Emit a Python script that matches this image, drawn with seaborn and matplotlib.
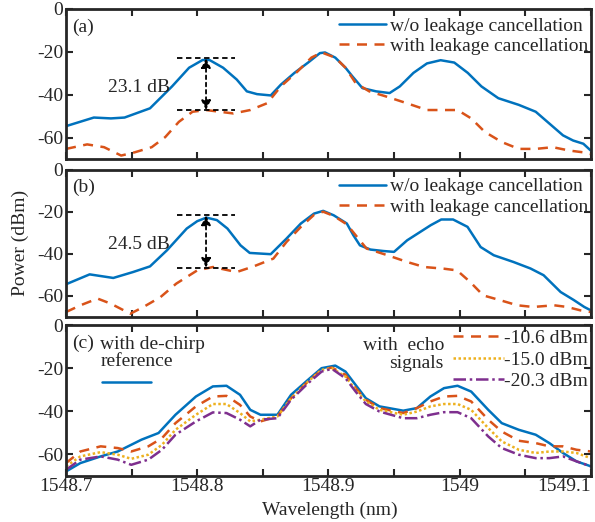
import numpy as np
import pandas as pd
import matplotlib.pyplot as plt
import seaborn as sns

sns.set_style("ticks")
plt.rcParams["font.family"] = ["Liberation Serif", "DejaVu Serif"]
plt.rcParams["font.size"] = 14
plt.rcParams["lines.solid_joinstyle"] = "round"

# ------------------- Data -------------------

# Panel (a)
wl_a_blue = [1548.7000, 1548.7212, 1548.7342, 1548.7446, 1548.7640, 1548.7808, 1548.7938, 1548.8041,
             1548.8093, 1548.8197, 1548.8301, 1548.8378, 1548.8456, 1548.8560, 1548.8637, 1548.8741,
             1548.8845, 1548.8935, 1548.8974, 1548.9052, 1548.9130, 1548.9181, 1548.9259, 1548.9363,
             1548.9466, 1548.9544, 1548.9648, 1548.9751, 1548.9855, 1548.9959, 1549.0062, 1549.0166,
             1549.0295, 1549.0451, 1549.0580, 1549.0684, 1549.0788, 1549.0865, 1549.0943, 1549.1000]
pw_a_blue = [-54.6, -50.6, -51.0, -50.6, -46.3, -36.1, -27.4, -23.8,
             -23.8, -27.4, -32.9, -38.4, -39.7, -40.3, -35.3, -29.8,
             -25.0, -20.6, -20.3, -22.7, -27.4, -31.3, -36.9, -38.4,
             -39.2, -36.1, -29.8, -25.4, -23.9, -25.0, -29.8, -36.1,
             -41.6, -44.7, -47.9, -53.4, -58.9, -61.3, -62.8, -66.0]

wl_a_orange = [1548.7000, 1548.7161, 1548.7290, 1548.7420, 1548.7523, 1548.7653, 1548.7756, 1548.7860,
               1548.7964, 1548.8067, 1548.8171, 1548.8275, 1548.8404, 1548.8534, 1548.8637, 1548.8767,
               1548.8870, 1548.8948, 1548.9052, 1548.9130, 1548.9207, 1548.9311, 1548.9440, 1548.9596,
               1548.9751, 1548.9881, 1548.9984, 1549.0088, 1549.0192, 1549.0321, 1549.0451, 1549.0580,
               1549.0710, 1549.0839, 1549.0943, 1549.1000]
pw_a_orange = [-65.2, -63.1, -64.4, -68.3, -66.8, -64.4, -59.7, -52.6,
               -47.9, -47.1, -47.9, -48.7, -47.1, -43.9, -36.1, -29.0,
               -22.7, -20.3, -22.7, -27.4, -34.5, -38.4, -40.8, -43.9,
               -47.1, -47.1, -47.1, -51.0, -57.3, -62.0, -65.2, -65.2,
               -64.4, -66.0, -66.8, -67.6]

# Panel (b)
wl_b_blue = [1548.700, 1548.718, 1548.736, 1548.751, 1548.764, 1548.777, 1548.792, 1548.800,
             1548.807, 1548.815, 1548.823, 1548.833, 1548.840, 1548.856, 1548.868, 1548.879,
             1548.889, 1548.896, 1548.904, 1548.914, 1548.919, 1548.924, 1548.932, 1548.942,
             1548.950, 1548.960, 1548.970, 1548.978, 1548.986, 1548.995, 1549.006, 1549.016,
             1549.026, 1549.041, 1549.054, 1549.064, 1549.077, 1549.087, 1549.095, 1549.100]
pw_b_blue = [-54.5, -49.8, -51.5, -48.7, -46.0, -38.3, -28.0, -24.5,
             -22.8, -24.0, -28.0, -36.0, -39.6, -40.2, -32.8, -25.6,
             -20.9, -19.6, -21.7, -25.6, -31.2, -36.0, -38.0, -38.7,
             -39.1, -33.6, -29.6, -26.4, -23.7, -23.7, -27.2, -36.8,
             -40.7, -43.9, -47.0, -50.2, -58.2, -62.0, -65.3, -66.9]

wl_b_orange = [1548.700, 1548.711, 1548.724, 1548.734, 1548.744, 1548.749, 1548.759, 1548.772,
               1548.784, 1548.800, 1548.812, 1548.830, 1548.843, 1548.858, 1548.868, 1548.879,
               1548.889, 1548.896, 1548.904, 1548.914, 1548.929, 1548.945, 1548.960, 1548.973,
               1548.988, 1548.998, 1549.008, 1549.018, 1549.031, 1549.044, 1549.056, 1549.072,
               1549.082, 1549.092, 1549.100]
pw_b_orange = [-67.7, -64.5, -61.3, -63.7, -66.9, -68.5, -65.3, -60.6,
               -54.2, -47.9, -46.3, -48.7, -46.0, -42.3, -34.4, -27.2,
               -21.5, -20.0, -22.0, -26.0, -37.5, -40.7, -43.9, -46.3,
               -47.1, -47.9, -53.4, -59.8, -62.1, -64.5, -65.3, -64.5,
               -65.3, -66.9, -67.7]

# Panel (c)
wl_c_ref = [1548.7000, 1548.7109, 1548.7264, 1548.7394, 1548.7575, 1548.7705, 1548.7834, 1548.7990,
            1548.8119, 1548.8223, 1548.8326, 1548.8404, 1548.8482, 1548.8611, 1548.8715, 1548.8845,
            1548.8948, 1548.9052, 1548.9130, 1548.9207, 1548.9285, 1548.9389, 1548.9570, 1548.9674,
            1548.9777, 1548.9881, 1548.9984, 1549.0088, 1549.0218, 1549.0321, 1549.0451, 1549.0580,
            1549.0684, 1549.0788, 1549.0891, 1549.1000]
pw_c_ref = [-68.1, -64.2, -61.1, -58.8, -53.3, -50.2, -41.7, -33.2,
            -28.5, -28.2, -32.4, -39.4, -41.7, -41.7, -32.4, -25.4,
            -20.0, -18.8, -21.6, -27.8, -34.0, -37.8, -39.8, -38.6,
            -33.2, -29.3, -28.2, -30.9, -39.4, -45.6, -48.7, -51.0,
            -54.9, -59.5, -63.4, -65.7]

wl_c = [1548.7000, 1548.7109, 1548.7264, 1548.7394, 1548.7497, 1548.7627, 1548.7731, 1548.7834,
        1548.7990, 1548.8119, 1548.8223, 1548.8326, 1548.8404, 1548.8482, 1548.8611, 1548.8715,
        1548.8845, 1548.8948, 1548.9026, 1548.9130, 1548.9207, 1548.9285, 1548.9389, 1548.9570,
        1548.9674, 1548.9777, 1548.9881, 1548.9984, 1549.0088, 1549.0218, 1549.0321, 1549.0451,
        1549.0580, 1549.0684, 1549.0788, 1549.0891, 1549.1000]
pw_c_106 = [-64.2, -58.8, -56.4, -57.2, -58.8, -56.4, -52.6, -45.6,
            -37.8, -33.2, -32.9, -37.1, -42.5, -44.8, -42.5, -34.0,
            -26.2, -20.8, -19.7, -23.1, -29.3, -34.7, -38.6, -40.9,
            -38.6, -35.5, -33.2, -32.9, -35.5, -44.0, -49.5, -53.8,
            -54.9, -56.4, -56.4, -58.0, -58.8]
pw_c_150 = [-65.7, -61.1, -59.1, -60.3, -62.2, -60.3, -55.7, -48.7,
            -41.7, -36.7, -36.7, -40.9, -44.8, -44.0, -42.5, -34.0,
            -26.2, -20.8, -20.0, -23.9, -30.1, -35.5, -39.4, -41.7,
            -40.2, -37.8, -36.7, -36.7, -39.4, -47.9, -54.1, -58.0,
            -59.5, -58.8, -58.8, -59.5, -61.9]
pw_c_203 = [-67.3, -62.6, -61.1, -62.6, -65.0, -62.6, -58.0, -51.0,
            -44.8, -40.6, -40.9, -44.0, -47.1, -44.0, -43.3, -34.7,
            -27.0, -21.6, -20.3, -24.7, -30.9, -36.7, -40.2, -43.3,
            -43.3, -41.7, -40.5, -40.5, -43.3, -51.8, -57.2, -60.3,
            -61.9, -61.9, -61.1, -63.4, -65.7]

echo_labels = ["-10.6 dBm", "-15.0 dBm", "-20.3 dBm"]

blue = "#0072BD"
orange = "#D95319"
yellow = "#EDB120"
purple = "#7E2F8E"

# ------------------- Figure -------------------

fig = plt.figure(figsize=(5.95, 5.22), dpi=100)
left, width = 0.111, 0.882
ax_a = fig.add_axes([left, 0.695, width, 0.288])
ax_b = fig.add_axes([left, 0.393, width, 0.282])
ax_c = fig.add_axes([left, 0.089, width, 0.288])

xticks = np.round(np.arange(1548.7, 1549.1001, 0.05), 2)
xlabels = ["1548.7", "", "1548.8", "", "1548.9", "", "1549", "", "1549.1"]

for ax in [ax_a, ax_b, ax_c]:
    ax.set_xlim(1548.7, 1549.1)
    ax.set_ylim(-70, 0)
    ax.set_yticks([0, -20, -40, -60])
    ax.set_yticklabels(["0", "-20", "-40", "-60"])
    ax.set_xticks(xticks)
    ax.tick_params(direction="in", top=True, right=True, length=5, width=1.5,
                   labelsize=14, pad=2, color="#262626")
    for s in ax.spines.values():
        s.set_linewidth(2)
        s.set_color("#262626")
    ax.set_xlabel("")
    ax.set_ylabel("")

ax_a.set_xticklabels([])
ax_b.set_xticklabels([])
ax_c.set_xticklabels(xlabels)
ax_c.get_xticklabels()[-1].set_horizontalalignment("right")

# (a) and (b)
panels = [
    (ax_a, wl_a_blue, pw_a_blue, wl_a_orange, pw_a_orange, "(a)", "23.1 dB", -23.0, -47.1),
    (ax_b, wl_b_blue, pw_b_blue, wl_b_orange, pw_b_orange, "(b)", "24.5 dB", -21.8, -46.6),
]
for ax, xb, yb, xo, yo, tag, gap, top, bot in panels:
    sns.lineplot(x=xb, y=yb, ax=ax, color=blue, linewidth=1.8, label="w/o leakage cancellation")
    sns.lineplot(x=xo, y=yo, ax=ax, color=orange, linewidth=1.8, linestyle=(0, (4, 3)),
                 label="with leakage cancellation")
    ax.legend(loc="upper right", bbox_to_anchor=(1.0, 0.965), frameon=False, fontsize=14,
              handlelength=2.4, handletextpad=0.2, borderaxespad=0.05, labelspacing=0.15,
              borderpad=0.1)
    ax.text(0.012, 0.88, tag, transform=ax.transAxes, fontsize=14, va="center")
    ax.hlines([top, bot], 1548.7847, 1548.8288, colors="black", linestyles=(0, (3, 2)), linewidth=1.3)
    ax.annotate("", xy=(1548.8067, top), xytext=(1548.8067, bot),
                arrowprops=dict(arrowstyle="<|-|>", color="black", linestyle=(0, (2, 2)),
                                lw=1.3, mutation_scale=14, shrinkA=0, shrinkB=0))
    ax.text(1548.732, (top + bot) / 2 - 1.5, gap, fontsize=14, va="center")

# (c)
sns.lineplot(x=wl_c_ref, y=pw_c_ref, ax=ax_c, color=blue, linewidth=1.8, legend=False)
sns.lineplot(x=wl_c, y=pw_c_106, ax=ax_c, color=orange, linewidth=1.8,
             linestyle=(0, (4, 3)), label=echo_labels[0])
sns.lineplot(x=wl_c, y=pw_c_150, ax=ax_c, color=yellow, linewidth=1.8,
             linestyle=(0, (1, 1)), label=echo_labels[1])
sns.lineplot(x=wl_c, y=pw_c_203, ax=ax_c, color=purple, linewidth=1.8,
             linestyle=(0, (5, 1.5, 1, 1.5)), label=echo_labels[2])
ax_c.legend(loc="upper right", bbox_to_anchor=(1.0, 0.99), frameon=False, fontsize=14,
            handlelength=2.6, handletextpad=0.0, borderaxespad=0.05, labelspacing=0.2,
            borderpad=0.1)
ax_c.text(0.012, 0.88, "(c)", transform=ax_c.transAxes, fontsize=14, va="center")
ax_c.text(0.065, 0.93, "with de-chirp\nreference", transform=ax_c.transAxes, fontsize=14,
          va="top", ha="left", linespacing=1.0)
ax_c.plot([0.069, 0.161], [0.625, 0.625], transform=ax_c.transAxes, color=blue, linewidth=1.8)
ax_c.text(0.72, 0.92, "with  echo\nsignals", transform=ax_c.transAxes, fontsize=14,
          va="top", ha="right", multialignment="right", linespacing=1.05)

fig.text(0.035, 0.535, "Power (dBm)", rotation=90, fontsize=14, ha="center", va="center")
fig.text(0.555, 0.022, "Wavelength (nm)", fontsize=14, ha="center", va="center")

fig.savefig("out.png", dpi=100)
